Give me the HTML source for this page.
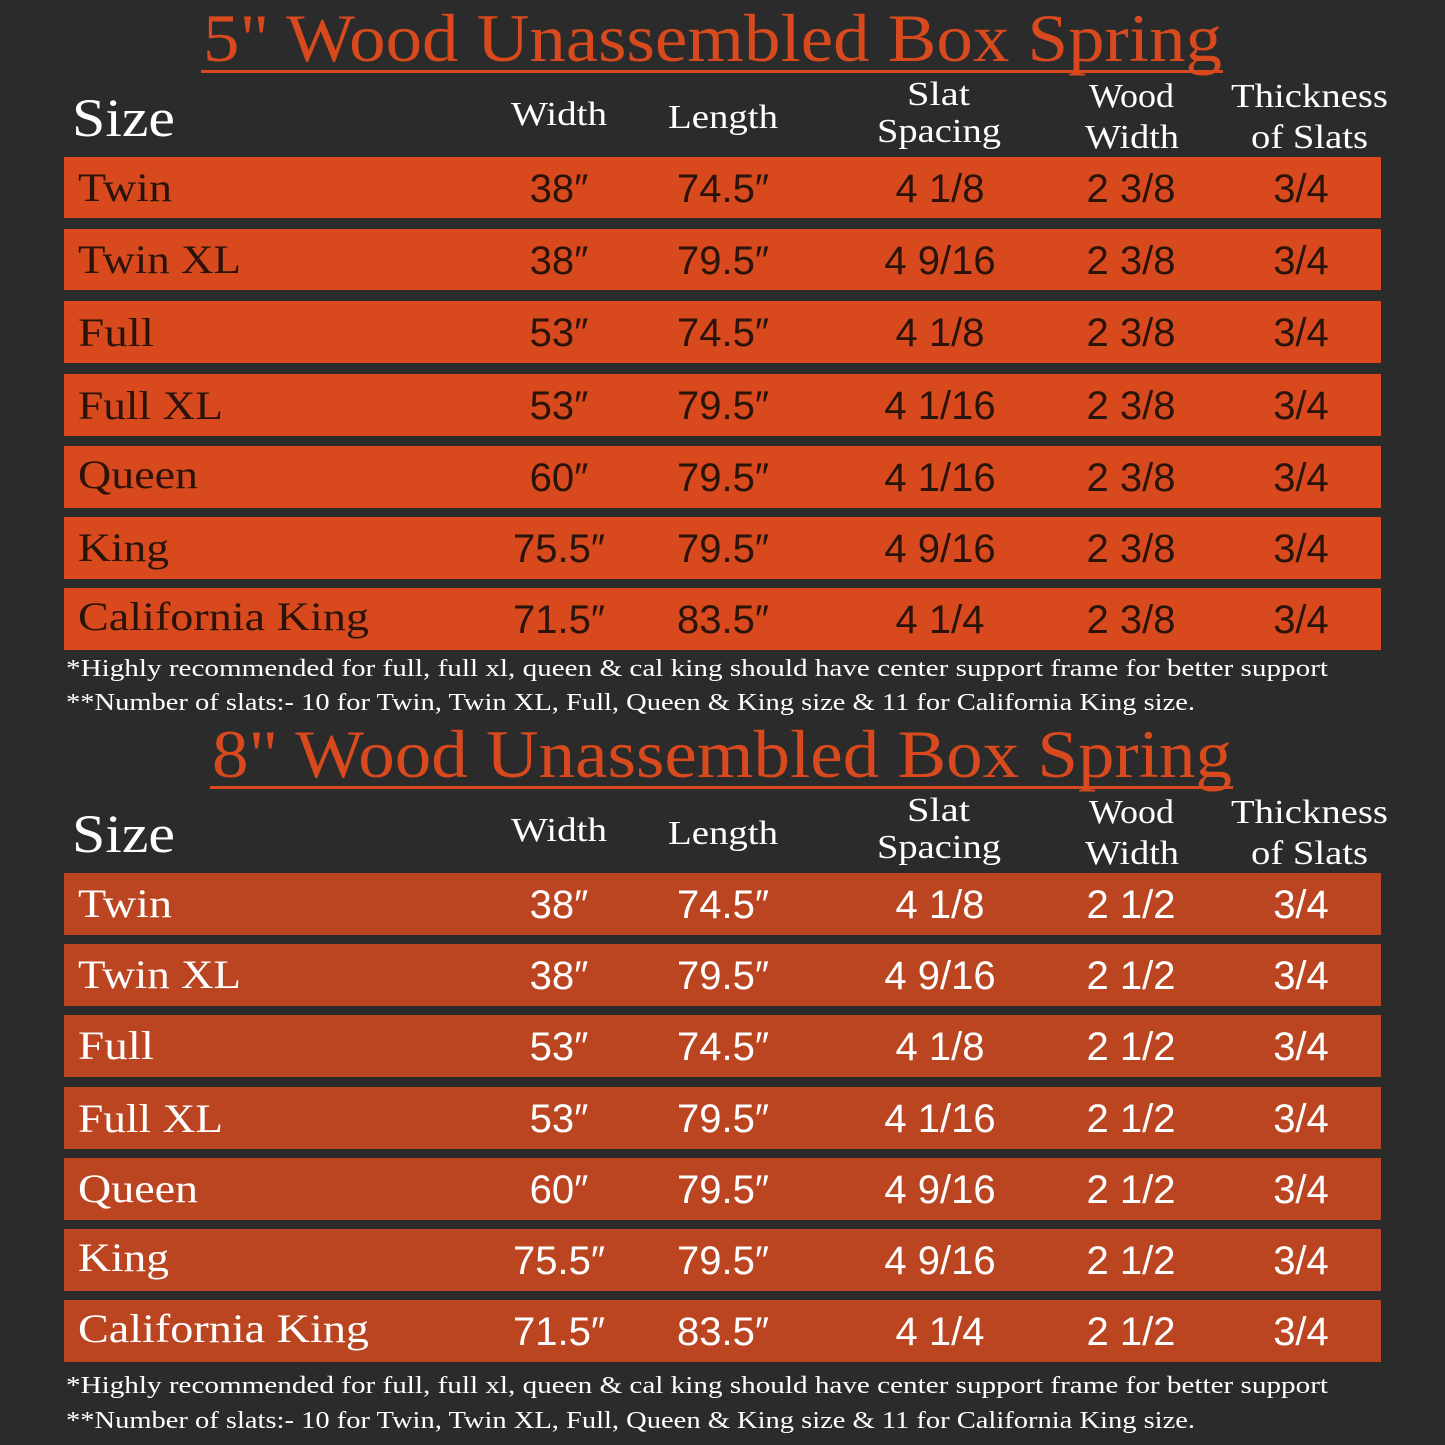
<!DOCTYPE html>
<html><head><style>html,body{margin:0;padding:0;background:#2b2b2b}svg{display:block}</style></head>
<body>
<svg width="1445" height="1445" viewBox="0 0 1445 1445" xmlns="http://www.w3.org/2000/svg">
<rect width="1445" height="1445" fill="#2b2b2b"/>
<g id="t1">
<text x="203" y="61" font-family="Liberation Serif, serif" font-size="68" fill="#d84a1e" textLength="1019" lengthAdjust="spacingAndGlyphs">5" Wood Unassembled Box Spring</text>
<rect x="201" y="70" width="1022" height="3" fill="#d84a1e"/>
<g font-family="Liberation Serif, serif" fill="#fff" lengthAdjust="spacingAndGlyphs">
<text x="72" y="136" font-size="54" textLength="103" lengthAdjust="spacingAndGlyphs">Size</text>
<text x="511" y="125" font-size="34" textLength="96" lengthAdjust="spacingAndGlyphs">Width</text>
<text x="668" y="128" font-size="34" textLength="110" lengthAdjust="spacingAndGlyphs">Length</text>
<text x="907" y="105" font-size="34" textLength="63" lengthAdjust="spacingAndGlyphs">Slat</text>
<text x="877" y="142" font-size="34" textLength="124" lengthAdjust="spacingAndGlyphs">Spacing</text>
<text x="1089" y="107" font-size="34" textLength="85" lengthAdjust="spacingAndGlyphs">Wood</text>
<text x="1085" y="148" font-size="34" textLength="94" lengthAdjust="spacingAndGlyphs">Width</text>
<text x="1231" y="107" font-size="34" textLength="157" lengthAdjust="spacingAndGlyphs">Thickness</text>
<text x="1251" y="148" font-size="34" textLength="117" lengthAdjust="spacingAndGlyphs">of Slats</text>
</g>
</g>
<g id="t2">
<text x="212" y="777" font-family="Liberation Serif, serif" font-size="68" fill="#d84a1e" textLength="1020" lengthAdjust="spacingAndGlyphs">8" Wood Unassembled Box Spring</text>
<rect x="210" y="786" width="1023" height="3" fill="#d84a1e"/>
<g font-family="Liberation Serif, serif" fill="#fff">
<text x="72" y="852" font-size="54" textLength="103" lengthAdjust="spacingAndGlyphs">Size</text>
<text x="511" y="841" font-size="34" textLength="96" lengthAdjust="spacingAndGlyphs">Width</text>
<text x="668" y="844" font-size="34" textLength="110" lengthAdjust="spacingAndGlyphs">Length</text>
<text x="907" y="821" font-size="34" textLength="63" lengthAdjust="spacingAndGlyphs">Slat</text>
<text x="877" y="858" font-size="34" textLength="124" lengthAdjust="spacingAndGlyphs">Spacing</text>
<text x="1089" y="823" font-size="34" textLength="85" lengthAdjust="spacingAndGlyphs">Wood</text>
<text x="1085" y="864" font-size="34" textLength="94" lengthAdjust="spacingAndGlyphs">Width</text>
<text x="1231" y="823" font-size="34" textLength="157" lengthAdjust="spacingAndGlyphs">Thickness</text>
<text x="1251" y="864" font-size="34" textLength="117" lengthAdjust="spacingAndGlyphs">of Slats</text>
</g>
</g>

<!-- top rows -->
<g fill="#d84a1e">
<rect x="64" y="157" width="1317" height="61"/>
<rect x="64" y="229" width="1317" height="61"/>
<rect x="64" y="301" width="1317" height="62"/>
<rect x="64" y="374" width="1317" height="62"/>
<rect x="64" y="446" width="1317" height="62"/>
<rect x="64" y="517" width="1317" height="62"/>
<rect x="64" y="588" width="1317" height="62"/>
</g>
<g fill="#bb4520">
<rect x="64" y="873" width="1317" height="62"/>
<rect x="64" y="944" width="1317" height="62"/>
<rect x="64" y="1015" width="1317" height="62"/>
<rect x="64" y="1087" width="1317" height="62"/>
<rect x="64" y="1158" width="1317" height="62"/>
<rect x="64" y="1229" width="1317" height="62"/>
<rect x="64" y="1300" width="1317" height="62"/>
</g>

<g font-family="Liberation Serif, serif" font-size="40" fill="#2a140a">
<text x="78" y="201" textLength="94" lengthAdjust="spacingAndGlyphs">Twin</text>
<text x="78" y="273" textLength="163" lengthAdjust="spacingAndGlyphs">Twin XL</text>
<text x="78" y="346" textLength="76" lengthAdjust="spacingAndGlyphs">Full</text>
<text x="78" y="419" textLength="145" lengthAdjust="spacingAndGlyphs">Full XL</text>
<text x="78" y="488" textLength="120" lengthAdjust="spacingAndGlyphs">Queen</text>
<text x="78" y="561" textLength="91" lengthAdjust="spacingAndGlyphs">King</text>
<text x="78" y="630" textLength="291" lengthAdjust="spacingAndGlyphs">California King</text>
</g>
<g font-family="Liberation Serif, serif" font-size="40" fill="#fff">
<text x="78" y="917" textLength="94" lengthAdjust="spacingAndGlyphs">Twin</text>
<text x="78" y="988" textLength="163" lengthAdjust="spacingAndGlyphs">Twin XL</text>
<text x="78" y="1059" textLength="76" lengthAdjust="spacingAndGlyphs">Full</text>
<text x="78" y="1132" textLength="145" lengthAdjust="spacingAndGlyphs">Full XL</text>
<text x="78" y="1202" textLength="120" lengthAdjust="spacingAndGlyphs">Queen</text>
<text x="78" y="1271" textLength="91" lengthAdjust="spacingAndGlyphs">King</text>
<text x="78" y="1342" textLength="291" lengthAdjust="spacingAndGlyphs">California King</text>
</g>

<g font-family="Liberation Sans, sans-serif" font-size="40" fill="#2a140a" text-anchor="middle">
<text x="559" y="202">38″</text><text x="723" y="202">74.5″</text><text x="940" y="202">4 1/8</text><text x="1131" y="202">2 3/8</text><text x="1301" y="202">3/4</text>
<text x="559" y="274">38″</text><text x="723" y="274">79.5″</text><text x="940" y="274">4 9/16</text><text x="1131" y="274">2 3/8</text><text x="1301" y="274">3/4</text>
<text x="559" y="346">53″</text><text x="723" y="346">74.5″</text><text x="940" y="346">4 1/8</text><text x="1131" y="346">2 3/8</text><text x="1301" y="346">3/4</text>
<text x="559" y="419">53″</text><text x="723" y="419">79.5″</text><text x="940" y="419">4 1/16</text><text x="1131" y="419">2 3/8</text><text x="1301" y="419">3/4</text>
<text x="559" y="491">60″</text><text x="723" y="491">79.5″</text><text x="940" y="491">4 1/16</text><text x="1131" y="491">2 3/8</text><text x="1301" y="491">3/4</text>
<text x="559" y="562">75.5″</text><text x="723" y="562">79.5″</text><text x="940" y="562">4 9/16</text><text x="1131" y="562">2 3/8</text><text x="1301" y="562">3/4</text>
<text x="559" y="633">71.5″</text><text x="723" y="633">83.5″</text><text x="940" y="633">4 1/4</text><text x="1131" y="633">2 3/8</text><text x="1301" y="633">3/4</text>
</g>
<g font-family="Liberation Sans, sans-serif" font-size="40" fill="#fff" text-anchor="middle">
<text x="559" y="918">38″</text><text x="723" y="918">74.5″</text><text x="940" y="918">4 1/8</text><text x="1131" y="918">2 1/2</text><text x="1301" y="918">3/4</text>
<text x="559" y="989">38″</text><text x="723" y="989">79.5″</text><text x="940" y="989">4 9/16</text><text x="1131" y="989">2 1/2</text><text x="1301" y="989">3/4</text>
<text x="559" y="1060">53″</text><text x="723" y="1060">74.5″</text><text x="940" y="1060">4 1/8</text><text x="1131" y="1060">2 1/2</text><text x="1301" y="1060">3/4</text>
<text x="559" y="1132">53″</text><text x="723" y="1132">79.5″</text><text x="940" y="1132">4 1/16</text><text x="1131" y="1132">2 1/2</text><text x="1301" y="1132">3/4</text>
<text x="559" y="1203">60″</text><text x="723" y="1203">79.5″</text><text x="940" y="1203">4 9/16</text><text x="1131" y="1203">2 1/2</text><text x="1301" y="1203">3/4</text>
<text x="559" y="1274">75.5″</text><text x="723" y="1274">79.5″</text><text x="940" y="1274">4 9/16</text><text x="1131" y="1274">2 1/2</text><text x="1301" y="1274">3/4</text>
<text x="559" y="1345">71.5″</text><text x="723" y="1345">83.5″</text><text x="940" y="1345">4 1/4</text><text x="1131" y="1345">2 1/2</text><text x="1301" y="1345">3/4</text>
</g>

<g font-family="Liberation Serif, serif" font-size="24" fill="#fff">
<text x="66" y="676" textLength="1262" lengthAdjust="spacingAndGlyphs">*Highly recommended for full, full xl, queen &amp; cal king should have center support frame  for better support</text>
<text x="66" y="710" textLength="1129" lengthAdjust="spacingAndGlyphs">**Number of slats:- 10 for Twin, Twin XL, Full, Queen &amp; King size &amp; 11 for California King size.</text>
<text x="66" y="1393" textLength="1262" lengthAdjust="spacingAndGlyphs">*Highly recommended for full, full xl, queen &amp; cal king should have center support frame  for better support</text>
<text x="66" y="1428" textLength="1129" lengthAdjust="spacingAndGlyphs">**Number of slats:- 10 for Twin, Twin XL, Full, Queen &amp; King size &amp; 11 for California King size.</text>
</g>
</svg>
</body></html>
